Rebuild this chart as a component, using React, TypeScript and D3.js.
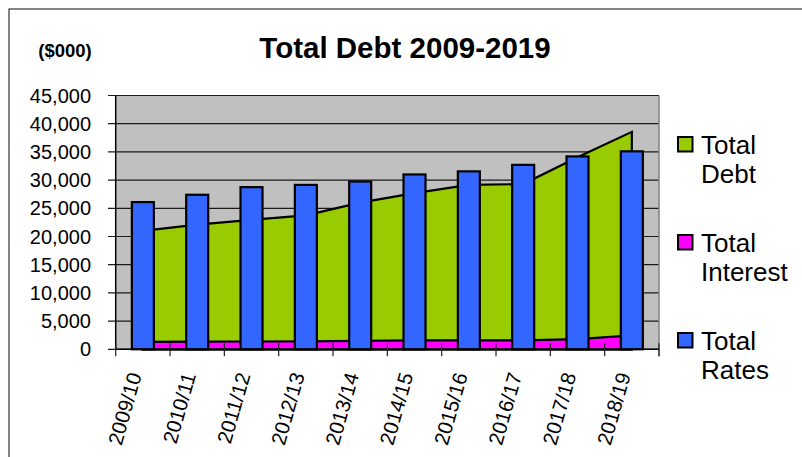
import React from "react";
import * as d3 from "d3";

const categories = ["2009/10", "2010/11", "2011/12", "2012/13", "2013/14", "2014/15", "2015/16", "2016/17", "2017/18", "2018/19"];
const totalRates = [26100, 27400, 28750, 29150, 29750, 31000, 31550, 32700, 34200, 35100];
const totalDebt = [21000, 22090, 22940, 23760, 26000, 27700, 29150, 29300, 34050, 38550];
const totalInterest = [1330, 1350, 1380, 1420, 1480, 1580, 1600, 1600, 1800, 2480];
const yTicks = [0, 5000, 10000, 15000, 20000, 25000, 30000, 35000, 40000, 45000];
const legendItems = [
  { lines: ["Total", "Debt"], color: "#99CC00" },
  { lines: ["Total", "Interest"], color: "#FF00FF" },
  { lines: ["Total", "Rates"], color: "#3366FF" },
];

const FONT = "'Liberation Sans', Arial, Helvetica, sans-serif";

export default function App() {
  const W = 802, H = 457;
  const left = 115.7, right = 659, top = 95.5, bottom = 349.3;
  const x = d3.scaleBand<string>().domain(categories).range([left, right]).padding(0);
  const y = d3.scaleLinear().domain([0, 45000]).range([bottom, top]);
  const bw = x.bandwidth();
  const cx = (i: number) => (x(categories[i]) as number) + bw / 2;
  const barW = 22;

  const area = d3.area<number>().x((_, i) => cx(i)).y0(y(0)).y1((d) => y(d));
  const areaPath = (vals: number[]) => area(vals) as string;

  const fmt = d3.format(",");
  const edges = categories.map((c) => x(c) as number).concat([right]);

  return (
    <svg width={W} height={H} style={{ position: "absolute", left: 0, top: 0, background: "#fff" }} fontFamily={FONT}>
      <rect x={9} y={9} width={W + 20} height={H + 20} fill="#fff" stroke="#333" strokeWidth={1.2} />
      <text x={65} y={57} textAnchor="middle" fontSize={18.5} fontWeight="bold">($000)</text>
      <text x={405} y={57.5} textAnchor="middle" fontSize={29.5} fontWeight="bold">Total Debt 2009-2019</text>

      {/* plot area */}
      <rect x={left} y={top} width={right - left} height={bottom - top} fill="#C0C0C0" />
      {yTicks.map((t) => (
        <line key={"g" + t} x1={108} x2={right} y1={y(t)} y2={y(t)} stroke="#1a1a1a" strokeWidth={1.2} />
      ))}
      <line x1={right} x2={right} y1={top} y2={bottom + 7} stroke="#808080" strokeWidth={1.5} />

      <path d={areaPath(totalDebt)} fill="#99CC00" stroke="#000" strokeWidth={2.2} strokeLinejoin="miter" />
      <path d={areaPath(totalInterest)} fill="#FF00FF" stroke="#000" strokeWidth={2.2} />

      {totalRates.map((v, i) => (
        <rect key={"b" + i} x={cx(i) - barW / 2} y={y(v)} width={barW} height={y(0) - y(v)} fill="#3366FF" stroke="#000" strokeWidth={2.2} />
      ))}

      {/* axes */}
      <line x1={left} x2={left} y1={top} y2={bottom} stroke="#000" strokeWidth={1.5} />
      <line x1={left} x2={right} y1={bottom} y2={bottom} stroke="#000" strokeWidth={1.5} />
      {edges.map((ex, i) => (
        <line key={"t" + i} x1={ex} x2={ex} y1={bottom - 6} y2={bottom + 7} stroke="#222" strokeWidth={1.2} />
      ))}

      {yTicks.map((t) => (
        <text key={"yl" + t} x={91} y={y(t)} dy="0.35em" textAnchor="end" fontSize={20}>{fmt(t)}</text>
      ))}

      {categories.map((c, i) => (
        <text key={"xl" + i} transform={`translate(${cx(i) - 1},${375}) rotate(-74)`} textAnchor="end" fontSize={20.5}>{c}</text>
      ))}

      {legendItems.map((it, i) => {
        const by = 154 + i * 98;
        return (
          <g key={"lg" + i}>
            <rect x={678} y={by - 17} width={14.5} height={14.5} fill={it.color} stroke="#000" strokeWidth={2} />
            <text x={701} y={by} fontSize={26}>{it.lines[0]}</text>
            <text x={701} y={by + 29} fontSize={26}>{it.lines[1]}</text>
          </g>
        );
      })}
    </svg>
  );
}
